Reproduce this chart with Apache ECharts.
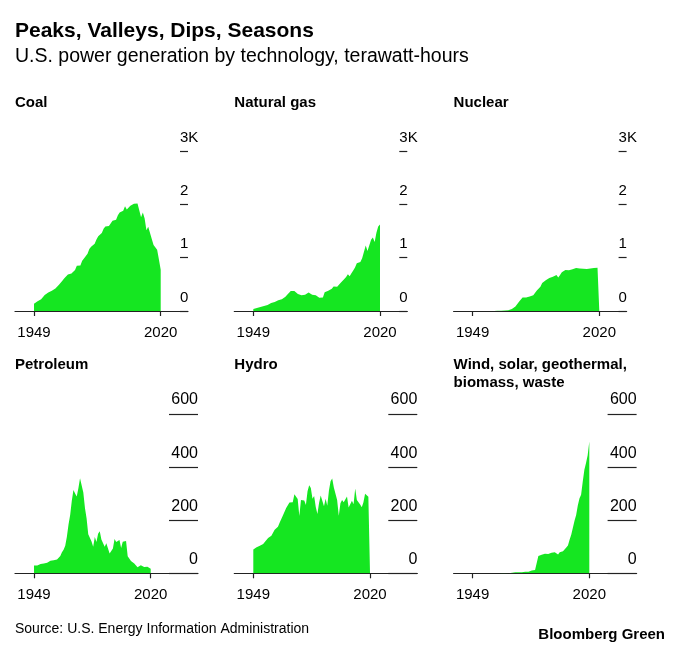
<!DOCTYPE html>
<html>
<head>
<meta charset="utf-8">
<script src="https://cdn.jsdelivr.net/npm/echarts@6/dist/echarts.min.js"></script>
<style>html,body{margin:0;padding:0;background:#fff}#c{width:680px;height:650px}</style>
</head>
<body>
<div id="c"></div>
<script>
// ---- data (TWh, annual, 1949-2020) ----
const years = [];
for (let y = 1949; y <= 2020; y++) years.push(y);

const coal = [135,155,185,195,219,239,301,338,346,344,
  378,403,422,450,494,526,571,613,630,685,
  706,704,713,771,848,828,853,944,985,976,
  1075,1162,1203,1192,1259,1342,1402,1386,1464,1541,
  1584,1594,1592,1621,1690,1691,1709,1795,1845,1874,
  1881,1966,1904,1933,1974,1978,2013,1991,2016,1986,
  1756,1847,1733,1514,1581,1582,1352,1239,1206,1150,
  965,773];

const gas = [37,45,57,65,74,83,95,104,114,121,
  148,158,169,184,202,220,222,251,265,304,
  333,373,374,376,341,320,300,295,306,305,
  330,346,346,305,274,297,292,249,273,253,
  353,373,382,404,415,460,496,455,479,531,
  556,601,639,691,650,710,761,816,897,883,
  921,988,1014,1226,1125,1127,1334,1378,1296,1469,
  1586,1624];

const nuclear = [0,0,0,0,0,0,0,0,0,0.2,
  0.2,0.5,1.7,2.3,3.2,3.3,3.7,5.5,7.7,12.5,
  13.9,21.8,38.1,54.1,83.5,114,172.5,191.1,250.9,276.4,
  255.2,251.1,272.7,282.8,293.7,327.6,383.7,414,455.3,527,
  529.4,576.9,612.6,618.8,610.3,640.4,673.4,674.7,628.6,673.7,
  728.3,753.9,768.8,780.1,763.7,788.5,782,787.2,806.4,806.2,
  798.9,807,790.2,769.3,789,797.2,797.2,805.7,805,807.1,
  809.4,789.9];

const petroleum = [29,34,29,31,35,32,37,36,40,41,
  47,48,49,49,52,58,65,79,89,104,
  138,184,220,273,314,301,289,320,358,365,
  304,246,206,147,145,120,100,137,118,149,
  158,127,120,100,113,106,75,81,93,129,
  118,111,125,95,119,121,122,64,66,46,
  39,37,30,23,27,30,28,24,21,25,
  18,17];

const hydro = [90,96,98,104,104,105,110,118,122,133,
  132,141,148,164,158,175,190,190,218,215,
  246,248,267,269,268,298,297,280,216,276,
  277,274,257,309,332,321,281,291,250,223,
  265,293,288,253,281,254,311,347,357,323,
  320,276,217,264,276,268,270,289,248,255,
  273,260,319,276,269,259,249,268,300,293,
  288,285];

const otherRenew = [0.4,0.4,0.4,0.3,0.3,0.3,0.3,0.2,0.2,0.2,
  0.2,0.2,0.2,0.2,0.3,0.4,0.5,0.6,0.9,0.9,
  1.0,0.6,0.6,1.8,2.2,2.8,3.5,3.9,3.9,3.4,
  4.0,6.0,6.1,5.2,6.3,8.4,10.1,11.5,12.3,12.0,
  65,66,70,73,74,76,73,75,77,77,
  79,81,71,79,80,83,87,97,105,126,
  145,172,198,220,255,282,296,345,390,415,
  445,496];

const panelNames = ['Coal','Natural gas','Nuclear','Petroleum','Hydro','Wind, solar, geothermal,\nbiomass, waste'];
const panelData = [coal, gas, nuclear, petroleum, hydro, otherRenew];
const tickYears = [1949, 2020];
const topTickMax = 3000, topTickStep = 1000;
const botTickMax = 600, botTickStep = 200;

// ---- layout / style ----
const GREEN = '#15e621';
const FONT = '"Liberation Sans", Arial, Helvetica, sans-serif';
const colLeft = [15, 234.3, 453.6];
const rows = [
  {top:151, height:160, width:173, xmin:1938.35, xmax:2035.3, ymax:topTickMax, step:topTickStep, tick:8, big:false, titleTop:94.5, yFont:15},
  {top:414, height:159.3, width:183, xmin:1937.44, xmax:2048.77, ymax:botTickMax, step:botTickStep, tick:29, big:true, titleTop:356.5, yFont:16}
];

const grid = [], xAxis = [], yAxis = [], series = [];
const title = [
  {text:'Peaks, Valleys, Dips, Seasons', left:15, top:21, padding:0,
   textStyle:{fontSize:21, fontWeight:'bold', color:'#000', fontFamily:FONT}},
  {text:'U.S. power generation by technology, terawatt-hours', left:15, top:46.5, padding:0,
   textStyle:{fontSize:19.5, fontWeight:'normal', color:'#000', fontFamily:FONT}},
  {text:'Source: U.S. Energy Information Administration', left:15, top:622, padding:0,
   textStyle:{fontSize:14, fontWeight:'normal', color:'#000', fontFamily:FONT}},
  {text:'Bloomberg Green', right:15, top:627.5, padding:0,
   textStyle:{fontSize:15, fontWeight:'bold', color:'#000', fontFamily:FONT}}
];

panelData.forEach((d, i) => {
  const r = rows[Math.floor(i / 3)];
  const left = colLeft[i % 3];
  grid.push({left:left, top:r.top, width:r.width, height:r.height, containLabel:false, outerBoundsMode:'none'});
  xAxis.push({
    gridIndex:i, type:'value', min:r.xmin, max:r.xmax,
    axisLine:{show:true, onZero:false, lineStyle:{color:'#222', width:1.2}},
    axisTick:{show:true, customValues:tickYears, length:5, lineStyle:{color:'#222', width:1.2}},
    axisLabel:{show:true, customValues:tickYears, formatter:v => String(v), margin:14,
      fontSize:15, color:'#000', fontFamily:FONT},
    splitLine:{show:false}
  });
  yAxis.push({
    gridIndex:i, type:'value', position:'right', min:0, max:r.ymax, interval:r.step,
    axisLine:{show:false},
    axisTick:{show:true, inside:true, length:r.tick, lineStyle:{color:'#222', width:1.2}},
    axisLabel:{show:true, inside:true, margin:r.big ? 0 : 8, align:r.big ? 'right' : 'left',
      verticalAlign:'bottom', padding:[0,0,6,0], fontSize:r.yFont, color:'#000', fontFamily:FONT,
      formatter: v => r.big ? String(v) : (v === 3000 ? '3K' : String(v / 1000))},
    splitLine:{show:false}
  });
  series.push({
    type:'line', xAxisIndex:i, yAxisIndex:i,
    data: years.map((y, k) => [y, d[k]]),
    symbol:'none', showSymbol:false, silent:true,
    lineStyle:{width:0, color:GREEN},
    areaStyle:{color:GREEN, opacity:1}
  });
  title.push({text:panelNames[i], left:left, top:r.titleTop, padding:0,
    textStyle:{fontSize:15, fontWeight:'bold', color:'#000', fontFamily:FONT, lineHeight:17.7}});
});

const chart = echarts.init(document.getElementById('c'), null, {renderer:'canvas'});
chart.setOption({backgroundColor:'#fff', animation:false, title, grid, xAxis, yAxis, series});
</script>
</body>
</html>
